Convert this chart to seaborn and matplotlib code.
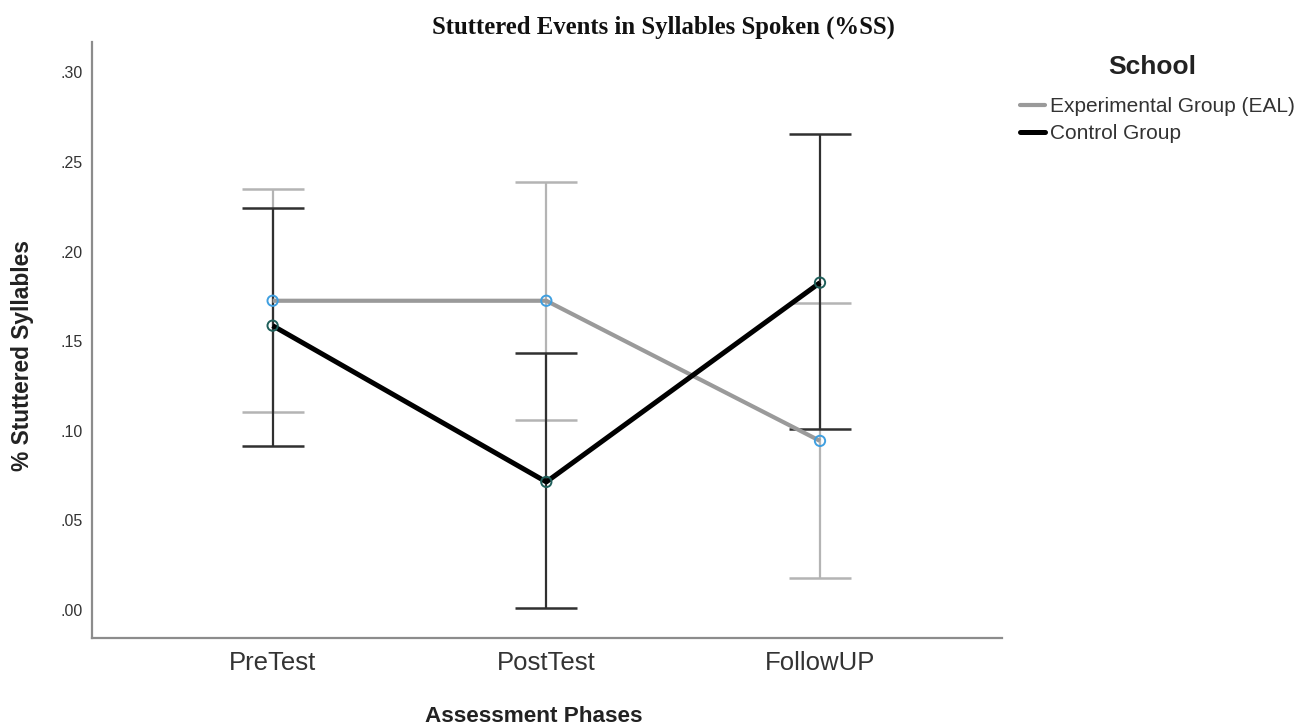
import matplotlib
matplotlib.use("Agg")
import matplotlib.pyplot as plt
from matplotlib.lines import Line2D
import seaborn as sns
import pandas as pd

# Assessment phases and group means with 95% CI bounds
phases = ["PreTest", "PostTest", "FollowUP"]
groups = ["Experimental Group (EAL)", "Control Group"]

exp_mean = [0.1726, 0.1726, 0.0944]
exp_lower = [0.1106, 0.1060, 0.0179]
exp_upper = [0.2350, 0.2390, 0.1715]

ctl_mean = [0.1587, 0.0715, 0.1827]
ctl_lower = [0.0916, 0.0011, 0.1011]
ctl_upper = [0.2246, 0.1436, 0.2654]

yticks = [0.0, 0.05, 0.10, 0.15, 0.20, 0.25, 0.30]

line_colors = {"Experimental Group (EAL)": "#9a9a9a", "Control Group": "#000000"}
err_colors = {"Experimental Group (EAL)": "#b4b4b4", "Control Group": "#303030"}
marker_edges = {"Experimental Group (EAL)": "#3f9fe0", "Control Group": "#1f5f5a"}
line_widths = {"Experimental Group (EAL)": 3.0, "Control Group": 3.6}

df = pd.DataFrame({
    "Phase": phases * 2,
    "School": [groups[0]] * 3 + [groups[1]] * 3,
    "Mean": exp_mean + ctl_mean,
    "Lower": exp_lower + ctl_lower,
    "Upper": exp_upper + ctl_upper,
})
df["Phase"] = pd.Categorical(df["Phase"], categories=phases, ordered=True)
df["pos"] = df["Phase"].cat.codes

sns.set_style("white")
plt.rcParams["font.family"] = ["Liberation Sans", "DejaVu Sans"]

fig = plt.figure(figsize=(13.11, 7.26), dpi=100)
ax = fig.add_axes([92 / 1311, 1 - 638 / 726, (1002 - 92) / 1311, (638 - 42) / 726])

# confidence interval bars for each group
for g in groups:
    sub = df[df["School"] == g]
    ax.errorbar(sub["pos"], sub["Mean"],
                yerr=[sub["Mean"] - sub["Lower"], sub["Upper"] - sub["Mean"]],
                fmt="none", ecolor=err_colors[g], elinewidth=1.6,
                capsize=22, capthick=1.8, zorder=2)

# mean lines
sns.lineplot(data=df, x="pos", y="Mean", hue="School", hue_order=groups,
             palette=line_colors, ax=ax, legend=False, zorder=3,
             estimator=None, sort=False)
for line, g in zip(ax.get_lines()[-2:], groups):
    line.set_linewidth(line_widths[g])
    line.set_solid_capstyle("butt")

# open circle markers at the means
for g in groups:
    sub = df[df["School"] == g]
    ax.scatter(sub["pos"], sub["Mean"], s=55, facecolors="none",
               edgecolors=marker_edges[g], linewidths=1.4, zorder=4)

ax.set_xlim(-0.66, 2.665)
ax.set_ylim(-0.0156, 0.317)
ax.set_xticks(range(len(phases)))
ax.set_xticklabels(phases, fontsize=18.5, color="#333333")
ax.set_yticks(yticks)
ax.set_yticklabels([f"{v:.2f}".lstrip("0") for v in yticks], fontsize=11.5, color="#333333")
ax.tick_params(axis="both", length=0)
ax.tick_params(axis="x", pad=9)
ax.tick_params(axis="y", pad=7)

for side in ["top", "right"]:
    ax.spines[side].set_visible(False)
for side in ["left", "bottom"]:
    ax.spines[side].set_color("#8c8c8c")
    ax.spines[side].set_linewidth(1.6)

ax.set_xlabel("")
ax.set_ylabel("")
fig.text(534 / 1311, 1 - 717 / 726, "Assessment Phases", ha="center", va="center",
         fontsize=16.2, fontweight="bold", color="#222222")
fig.text(22 / 1311, 1 - 356 / 726, "% Stuttered Syllables", ha="center", va="center",
         rotation=90, fontsize=16.4, fontweight="bold", color="#222222")
fig.text(663 / 1311, 1 - 27 / 726, "Stuttered Events in Syllables Spoken (%SS)",
         ha="center", va="center", fontsize=17.8, fontweight="bold",
         family=["Liberation Serif", "DejaVu Serif"], color="#111111")

# legend: heading plus one entry per group
fig.text(1152 / 1311, 1 - 67 / 726, "School", ha="center", va="center",
         fontsize=19, fontweight="bold", color="#222222")
handles = [Line2D([0], [0], color=line_colors[g], lw=line_widths[g]) for g in groups]
leg = fig.legend(handles, groups, loc="upper left",
                 bbox_to_anchor=(1020 / 1311, 1 - 97 / 726),
                 frameon=False, fontsize=15,
                 handlelength=1.2, handletextpad=0.25, labelspacing=0.4,
                 borderaxespad=0, borderpad=0)
for t in leg.get_texts():
    t.set_color("#333333")

fig.savefig("out.png", dpi=100, facecolor="white")
